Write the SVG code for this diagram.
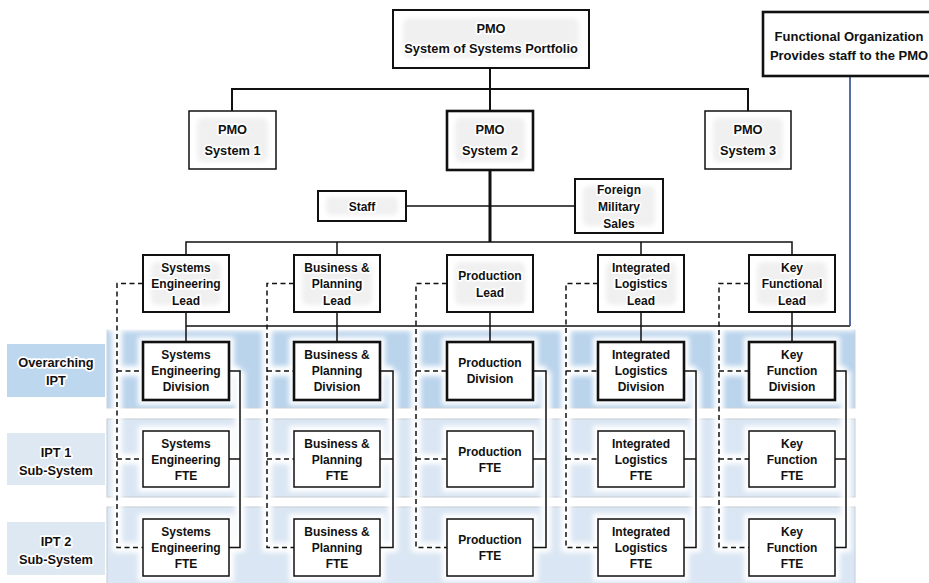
<svg xmlns="http://www.w3.org/2000/svg" width="929" height="583" viewBox="0 0 929 583">
<defs>
<filter id="glowblur" filterUnits="userSpaceOnUse" x="0" y="300" width="929" height="290">
<feGaussianBlur stdDeviation="2.8"/>
</filter>
<filter id="soft" x="-20%" y="-20%" width="140%" height="140%">
<feGaussianBlur stdDeviation="2"/>
</filter>
</defs>
<style>
text{font-family:"Liberation Sans",Arial,sans-serif;font-weight:bold;fill:#111;text-anchor:middle}
.t12{font-size:12px}
.t13{font-size:12.8px}
.t135{font-size:13px}
.box{fill:#fff;stroke:#111}
.thin{stroke-width:1.5}
.med{stroke-width:2}
.thick{stroke-width:2.6}
.ln{fill:none;stroke:#111;stroke-width:1.5}
.dash{fill:none;stroke:#111;stroke-width:1.5;stroke-dasharray:5 3.5}
.grey{fill:#f0f0f0;filter:url(#soft)}
.band0{fill:#bad4ec;stroke:#c9d1d9;stroke-width:1}
.band1{fill:#dae6f3;stroke:#c6ccd2;stroke-width:1}
.lab0{fill:#bdd7ee}
.lab1{fill:#dde8f3}
.ht{stroke:#fff;stroke-width:3.5;stroke-linejoin:round;paint-order:stroke}
.gl{fill:none;stroke:#fff;stroke-width:10}
.gr{fill:#fff}
</style>

<g id="bands">
<rect class="band0" x="107" y="330" width="748" height="78"/>
<rect class="band1" x="107" y="419" width="748" height="78"/>
<rect class="band1" x="107" y="507" width="748" height="78"/>
<g id="band-glow" filter="url(#glowblur)">
<path class="gl" d="M117 322V552M267 322V552M416 322V552M566 322V552M719 322V552"/>
<path class="gl" d="M240 371V552M393 371V552M546 371V552M696 371V552M846 371V552"/>
<path class="gl" d="M117 371H143M117 459H143M117 547.5H143M267 371H294M267 459H294M267 547.5H294M416 371H447M416 459H447M416 547.5H447M566 371H598M566 459H598M566 547.5H598M719 371H749M719 459H749M719 547.5H749"/>
<path class="gl" d="M229 371H240M229 459H240M229 547.5H240M380 371H393M380 459H393M380 547.5H393M533 371H546M533 459H546M533 547.5H546M684 371H696M684 459H696M684 547.5H696M835 371H846M835 459H846M835 547.5H846"/>
<path class="gl" d="M107 326H855"/>
<rect class="gr" x="138" y="337" width="96" height="68"/>
<rect class="gr" x="289" y="337" width="96" height="68"/>
<rect class="gr" x="442" y="337" width="96" height="68"/>
<rect class="gr" x="593" y="337" width="96" height="68"/>
<rect class="gr" x="744" y="337" width="96" height="68"/>
<rect class="gr" x="138" y="426" width="96" height="66"/>
<rect class="gr" x="289" y="426" width="96" height="66"/>
<rect class="gr" x="442" y="426" width="96" height="66"/>
<rect class="gr" x="593" y="426" width="96" height="66"/>
<rect class="gr" x="744" y="426" width="96" height="66"/>
<rect class="gr" x="138" y="514" width="96" height="67"/>
<rect class="gr" x="289" y="514" width="96" height="67"/>
<rect class="gr" x="442" y="514" width="96" height="67"/>
<rect class="gr" x="593" y="514" width="96" height="67"/>
<rect class="gr" x="744" y="514" width="96" height="67"/>
</g>
</g>

<g id="row-labels">
<g id="lab-overarching">
<rect class="lab0" x="7" y="344" width="98" height="53"/>
<text class="t13 ht" x="56" y="367">Overarching<tspan x="56" y="385">IPT</tspan></text>
</g>
<g id="lab-ipt1">
<rect class="lab1" x="7" y="433" width="98" height="52"/>
<text class="t13 ht" x="56" y="457">IPT 1<tspan x="56" y="475">Sub-System</tspan></text>
</g>
<g id="lab-ipt2">
<rect class="lab1" x="7" y="522" width="98" height="53"/>
<text class="t13 ht" x="56" y="546">IPT 2<tspan x="56" y="564">Sub-System</tspan></text>
</g>
</g>

<g id="connectors">
<path class="ln" d="M490 68V111M232 111V89H748V111" style="stroke-width:2"/>
<path class="ln" d="M490 170V242" style="stroke-width:3"/>
<path class="ln" d="M406 206H575"/>
<path class="ln" d="M186 255V242H792V255M337 242V255M641 242V255"/>
<path class="ln" d="M186 312V342M337 312V342M490 312V342M641 312V342M792 312V342M186 326H850"/>
<path fill="none" stroke="#2e4a86" stroke-width="1.6" d="M850 76V326"/>
<path class="dash" d="M143 283.5H117V547.5H143M117 371H143M117 459H143"/>
<path class="dash" d="M294 283.5H267V547.5H294M267 371H294M267 459H294"/>
<path class="dash" d="M447 283.5H416V547.5H447M416 371H447M416 459H447"/>
<path class="dash" d="M598 283.5H566V547.5H598M566 371H598M566 459H598"/>
<path class="dash" d="M749 283.5H719V547.5H749M719 371H749M719 459H749"/>
<path class="ln" d="M229 371H240V547.5H229M240 459H229"/>
<path class="ln" d="M380 371H393V547.5H380M393 459H380"/>
<path class="ln" d="M533 371H546V547.5H533M546 459H533"/>
<path class="ln" d="M684 371H696V547.5H684M696 459H684"/>
<path class="ln" d="M835 371H846V547.5H835M846 459H835"/>
</g>

<g id="pmo-sos">
<rect class="box med" x="393" y="10" width="196" height="58"/>
<rect class="grey" x="403" y="18" width="176" height="40" rx="6"/>
<text class="t13 ht" x="491" y="33">PMO<tspan x="491" y="53">System of Systems Portfolio</tspan></text>
</g>
<g id="functional-org">
<rect class="box" style="stroke-width:2.6" x="763" y="12" width="175" height="64"/>
<text class="t135" x="849" y="41">Functional Organization<tspan x="849" y="60">Provides staff to the PMO</tspan></text>
</g>
<g id="pmo-sys1">
<rect class="box thin" x="189" y="111" width="87" height="58"/>
<rect class="grey" x="197" y="118" width="71" height="44" rx="6"/>
<text class="t13 ht" x="232.5" y="134">PMO<tspan x="232.5" y="155">System 1</tspan></text>
</g>
<g id="pmo-sys2">
<rect class="box thick" x="447" y="111" width="86" height="59"/>
<rect class="grey" x="455" y="118" width="70" height="44" rx="6"/>
<text class="t13 ht" x="490" y="134">PMO<tspan x="490" y="155">System 2</tspan></text>
</g>
<g id="pmo-sys3">
<rect class="box thin" x="705" y="111" width="86" height="58"/>
<rect class="grey" x="713" y="118" width="70" height="44" rx="6"/>
<text class="t13 ht" x="748" y="134">PMO<tspan x="748" y="155">System 3</tspan></text>
</g>
<g id="staff">
<rect class="box med" x="318" y="191" width="88" height="30"/>
<rect class="grey" x="326" y="197" width="72" height="18" rx="5"/>
<text class="t12 ht" x="362" y="210.5">Staff</text>
</g>
<g id="fms">
<rect class="box med" x="575" y="179" width="88" height="54"/>
<rect class="grey" x="583" y="186" width="72" height="40" rx="6"/>
<text class="t12 ht" x="619" y="193.5">Foreign<tspan x="619" y="211">Military</tspan><tspan x="619" y="227.5">Sales</tspan></text>
</g>

<g id="lead-se">
<rect class="box med" x="143" y="255" width="86" height="57"/>
<rect class="grey" x="151" y="262" width="70" height="43" rx="6"/>
<text class="t12 ht" x="186" y="271.5">Systems<tspan x="186" y="288">Engineering</tspan><tspan x="186" y="304.5">Lead</tspan></text>
</g>
<g id="lead-bp">
<rect class="box med" x="294" y="255" width="86" height="57"/>
<rect class="grey" x="302" y="262" width="70" height="43" rx="6"/>
<text class="t12 ht" x="337" y="271.5">Business &amp;<tspan x="337" y="288">Planning</tspan><tspan x="337" y="304.5">Lead</tspan></text>
</g>
<g id="lead-prod">
<rect class="box med" x="447" y="255" width="86" height="57"/>
<rect class="grey" x="455" y="262" width="70" height="43" rx="6"/>
<text class="t12 ht" x="490" y="280">Production<tspan x="490" y="296.5">Lead</tspan></text>
</g>
<g id="lead-ils">
<rect class="box med" x="598" y="255" width="86" height="57"/>
<rect class="grey" x="606" y="262" width="70" height="43" rx="6"/>
<text class="t12 ht" x="641" y="271.5">Integrated<tspan x="641" y="288">Logistics</tspan><tspan x="641" y="304.5">Lead</tspan></text>
</g>
<g id="lead-kf">
<rect class="box med" x="749" y="255" width="86" height="57"/>
<rect class="grey" x="757" y="262" width="70" height="43" rx="6"/>
<text class="t12 ht" x="792" y="271.5">Key<tspan x="792" y="288">Functional</tspan><tspan x="792" y="304.5">Lead</tspan></text>
</g>

<g id="div-se">
<rect class="box thick" x="143" y="342" width="86" height="58"/>
<text class="t12" x="186" y="358.5">Systems<tspan x="186" y="375">Engineering</tspan><tspan x="186" y="391">Division</tspan></text>
</g>
<g id="div-bp">
<rect class="box thick" x="294" y="342" width="86" height="58"/>
<text class="t12" x="337" y="358.5">Business &amp;<tspan x="337" y="375">Planning</tspan><tspan x="337" y="391">Division</tspan></text>
</g>
<g id="div-prod">
<rect class="box thick" x="447" y="342" width="86" height="58"/>
<text class="t12" x="490" y="367">Production<tspan x="490" y="383">Division</tspan></text>
</g>
<g id="div-ils">
<rect class="box thick" x="598" y="342" width="86" height="58"/>
<text class="t12" x="641" y="358.5">Integrated<tspan x="641" y="375">Logistics</tspan><tspan x="641" y="391">Division</tspan></text>
</g>
<g id="div-kf">
<rect class="box thick" x="749" y="342" width="86" height="58"/>
<text class="t12" x="792" y="358.5">Key<tspan x="792" y="375">Function</tspan><tspan x="792" y="391">Division</tspan></text>
</g>

<g id="fte1-se">
<rect class="box thin" x="143" y="431" width="86" height="56"/>
<text class="t12" x="186" y="447.5">Systems<tspan x="186" y="463.5">Engineering</tspan><tspan x="186" y="479.5">FTE</tspan></text>
</g>
<g id="fte1-bp">
<rect class="box thin" x="294" y="431" width="86" height="56"/>
<text class="t12" x="337" y="447.5">Business &amp;<tspan x="337" y="463.5">Planning</tspan><tspan x="337" y="479.5">FTE</tspan></text>
</g>
<g id="fte1-prod">
<rect class="box thin" x="447" y="431" width="86" height="56"/>
<text class="t12" x="490" y="455.5">Production<tspan x="490" y="471.5">FTE</tspan></text>
</g>
<g id="fte1-ils">
<rect class="box thin" x="598" y="431" width="86" height="56"/>
<text class="t12" x="641" y="447.5">Integrated<tspan x="641" y="463.5">Logistics</tspan><tspan x="641" y="479.5">FTE</tspan></text>
</g>
<g id="fte1-kf">
<rect class="box thin" x="749" y="431" width="86" height="56"/>
<text class="t12" x="792" y="447.5">Key<tspan x="792" y="463.5">Function</tspan><tspan x="792" y="479.5">FTE</tspan></text>
</g>

<g id="fte2-se">
<rect class="box thin" x="143" y="519" width="86" height="57"/>
<text class="t12" x="186" y="536">Systems<tspan x="186" y="552">Engineering</tspan><tspan x="186" y="568">FTE</tspan></text>
</g>
<g id="fte2-bp">
<rect class="box thin" x="294" y="519" width="86" height="57"/>
<text class="t12" x="337" y="536">Business &amp;<tspan x="337" y="552">Planning</tspan><tspan x="337" y="568">FTE</tspan></text>
</g>
<g id="fte2-prod">
<rect class="box thin" x="447" y="519" width="86" height="57"/>
<text class="t12" x="490" y="544">Production<tspan x="490" y="560">FTE</tspan></text>
</g>
<g id="fte2-ils">
<rect class="box thin" x="598" y="519" width="86" height="57"/>
<text class="t12" x="641" y="536">Integrated<tspan x="641" y="552">Logistics</tspan><tspan x="641" y="568">FTE</tspan></text>
</g>
<g id="fte2-kf">
<rect class="box thin" x="749" y="519" width="86" height="57"/>
<text class="t12" x="792" y="536">Key<tspan x="792" y="552">Function</tspan><tspan x="792" y="568">FTE</tspan></text>
</g>
</svg>
